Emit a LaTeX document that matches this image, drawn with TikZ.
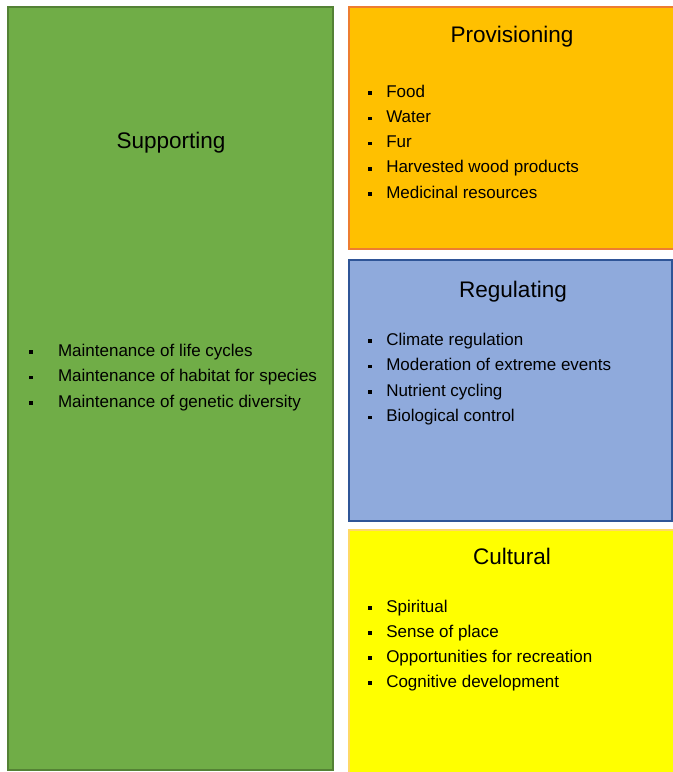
\documentclass[tikz,border=0pt]{standalone}
\usepackage{fontspec}
\setmainfont{Liberation Sans}
\usepackage{tikz}
\definecolor{supfill}{HTML}{70AD47}
\definecolor{supline}{HTML}{548235}
\definecolor{provfill}{HTML}{FFC000}
\definecolor{provline}{HTML}{ED7D31}
\definecolor{regfill}{HTML}{8FAADC}
\definecolor{regline}{HTML}{2F5597}
\definecolor{culfill}{HTML}{FFFF00}
\definecolor{culline}{HTML}{FFD966}
\newcommand{\bul}{\rule[1.7pt]{2.6pt}{2.6pt}}
\tikzstyle{panel}=[line width=1.5pt]
\tikzstyle{title}=[anchor=base,inner sep=0pt,font=\fontsize{16.9}{20}\selectfont]
\tikzstyle{item}=[anchor=base west,inner sep=0pt,font=\fontsize{12.75}{15}\selectfont]

\begin{document}
\begin{tikzpicture}[x=0.75pt,y=-0.75pt]
          \useasboundingbox (0,0) rectangle (673,772);
          \clip (0,0) rectangle (673,772);
          \draw[panel,draw=supline,fill=supfill] (8,7) rectangle (333,770);
          \draw[panel,draw=provline,fill=provfill] (349,7) rectangle (676,249);
          \draw[panel,draw=regline,fill=regfill] (349,260) rectangle (672,521);
          \draw[panel,draw=culline,fill=culfill] (349,530) rectangle (676,776);
          \node[title] (sup) at (171,148) {Supporting};
          \node[item] (sup1) at (29,356) {\bul\hspace{19pt}Maintenance of life cycles};
          \node[item] (sup2) at (29,381.5) {\bul\hspace{19pt}Maintenance of habitat for species};
          \node[item] (sup3) at (29,407) {\bul\hspace{19pt}Maintenance of genetic diversity};
          \node[title] (prov) at (512,42) {Provisioning};
          \node[item] (prov1) at (368,97) {\bul\hspace{10.9pt}Food};
          \node[item] (prov2) at (368,122.3) {\bul\hspace{10.9pt}Water};
          \node[item] (prov3) at (368,147.5) {\bul\hspace{10.9pt}Fur};
          \node[item] (prov4) at (368,172.8) {\bul\hspace{10.9pt}Harvested wood products};
          \node[item] (prov5) at (368,198) {\bul\hspace{10.9pt}Medicinal resources};
          \node[title] (reg) at (513,297) {Regulating};
          \node[item] (reg1) at (368,345) {\bul\hspace{10.9pt}Climate regulation};
          \node[item] (reg2) at (368,370.5) {\bul\hspace{10.9pt}Moderation of extreme events};
          \node[item] (reg3) at (368,396) {\bul\hspace{10.9pt}Nutrient cycling};
          \node[item] (reg4) at (368,421.5) {\bul\hspace{10.9pt}Biological control};
          \node[title] (cul) at (512,564) {Cultural};
          \node[item] (cul1) at (368,612) {\bul\hspace{10.9pt}Spiritual};
          \node[item] (cul2) at (368,637) {\bul\hspace{10.9pt}Sense of place};
          \node[item] (cul3) at (368,662) {\bul\hspace{10.9pt}Opportunities for recreation};
          \node[item] (cul4) at (368,687) {\bul\hspace{10.9pt}Cognitive development};
        \end{tikzpicture}
\end{document}
